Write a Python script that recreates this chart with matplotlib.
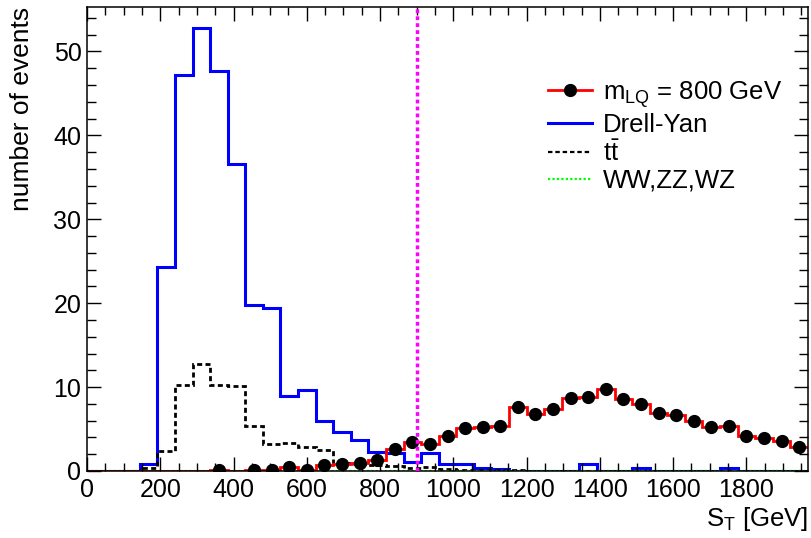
# S_T distribution: LQ signal vs backgrounds (ROOT-like style)
import numpy as np
import matplotlib
matplotlib.use("Agg")
import matplotlib.pyplot as plt
from matplotlib.lines import Line2D
from matplotlib.ticker import MultipleLocator

plt.rcParams['font.family'] = ['Liberation Sans', 'DejaVu Sans']
plt.rcParams['mathtext.fontset'] = 'custom'
plt.rcParams['mathtext.rm'] = 'Liberation Sans'
plt.rcParams['mathtext.it'] = 'Liberation Sans:italic'

# data: 41 bins of 48 GeV from 0
bin_width = 48
n_bins = 41
edges = np.arange(n_bins + 1) * bin_width

signal = [0, 0, 0, 0, 0, 0, 0, 0.1, 0, 0.15, 0.15, 0.5, 0.15, 0.7, 0.8, 1.0,
          1.3, 2.6, 3.4, 3.2, 4.2, 5.1, 5.3, 5.4, 7.6, 6.8, 7.4, 8.7, 8.8, 9.8,
          8.6, 8.0, 6.9, 6.7, 6.0, 5.2, 5.4, 4.2, 3.9, 3.6, 2.9]

drell_yan = [0, 0, 0, 0.8, 24.3, 47.2, 52.8, 47.7, 36.6, 19.8, 19.4, 8.9, 9.6,
             5.9, 4.6, 3.7, 2.3, 2.2, 1.1, 2.1, 0.8, 0.8, 0.3, 0.25, 0, 0, 0, 0,
             0.8, 0, 0, 0.35, 0, 0, 0, 0, 0.4, 0, 0, 0, 0]

ttbar = [0, 0, 0, 0.3, 2.4, 10.3, 12.8, 10.3, 10.1, 5.4, 3.2, 3.3, 2.9, 2.5,
         0.9, 0.8, 0.7, 0.6, 0.4, 0.5, 0.2, 0.1, 0.1, 0.15, 0.1, 0, 0, 0, 0,
         0, 0, 0, 0, 0, 0, 0, 0, 0, 0, 0, 0]

diboson = [0] * n_bins

st_cut = 900

fig = plt.figure(figsize=(8.12, 5.38), dpi=100)
ax = fig.add_axes([87 / 812, 1 - 471 / 538, (808 - 87) / 812, (471 - 7) / 538])

ax.stairs(drell_yan, edges, color='#0000ff', lw=2.2, baseline=None)
ax.stairs(ttbar, edges, color='black', lw=2.0, ls=(0, (1.8, 1.2)), baseline=None)
ax.stairs(diboson, edges, color='#00ff00', lw=1.6, ls=(0, (1, 1)), baseline=None)
ax.stairs(signal, edges, color='#ff0000', lw=2.0, baseline=None)

centers = (edges[:-1] + edges[1:]) / 2
sig = np.array(signal)
mask = sig > 0
ax.plot(centers[mask], sig[mask], 'o', color='black', ms=8.5, zorder=5)

ax.axvline(st_cut, color='#ff00ff', lw=2.5, ls=(0, (1.1, 0.9)), zorder=6)

ax.set_xlim(0, edges[-1])
ax.set_ylim(0, 55.3)

ax.xaxis.set_major_locator(MultipleLocator(200))
ax.xaxis.set_minor_locator(MultipleLocator(50))
ax.yaxis.set_major_locator(MultipleLocator(10))
ax.yaxis.set_minor_locator(MultipleLocator(2))
ax.tick_params(which='both', direction='in', top=True, right=True, labelsize=18, width=1.0)
ax.tick_params(axis='x', which='major', length=10, pad=5)
ax.tick_params(axis='x', which='minor', length=5.5)
ax.tick_params(axis='y', which='major', length=10, pad=4)
ax.tick_params(axis='y', which='minor', length=6.5)
for s in ax.spines.values():
    s.set_linewidth(1.1)

ax.set_xlabel(r'S$_{\rm T}$ [GeV]', fontsize=18.5, loc='right', labelpad=2)
ax.set_ylabel('number of events', fontsize=19, loc='top', labelpad=14)

handles = [
    Line2D([], [], color='#ff0000', lw=2.0, marker='o', mfc='black', mec='black', ms=8.5),
    Line2D([], [], color='#0000ff', lw=2.2),
    Line2D([], [], color='black', lw=1.6, ls=(0, (2.0, 1.3))),
    Line2D([], [], color='#00ff00', lw=1.6, ls=(0, (1, 1))),
]
labels = [r'm$_{\rm LQ}$ = 800 GeV', 'Drell-Yan', r'$\rm t\bar{t}$', 'WW,ZZ,WZ']
ax.legend(handles, labels, loc='upper left', bbox_to_anchor=(535 / 812, 1 - 66 / 538),
          bbox_transform=fig.transFigure, frameon=False, fontsize=18.5,
          handlelength=1.7, handletextpad=0.45, labelspacing=0.12, borderpad=0)

fig.savefig('out.png', dpi=100)
